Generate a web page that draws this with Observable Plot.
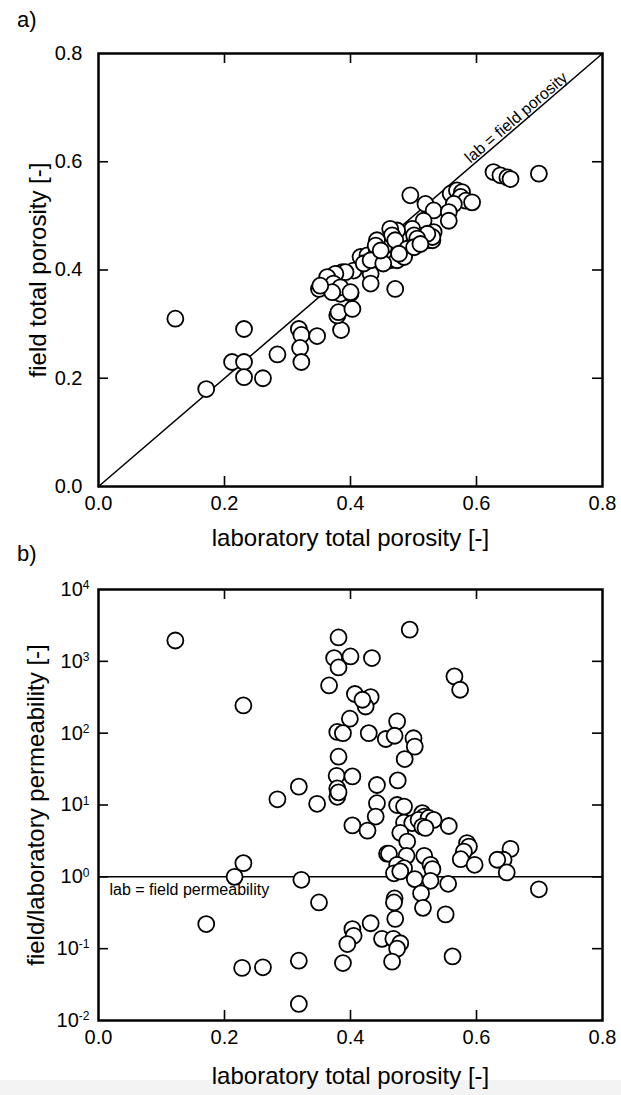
<!DOCTYPE html>
<html><head><meta charset="utf-8">
<script src="https://cdn.jsdelivr.net/npm/d3@7"></script>
<script src="https://cdn.jsdelivr.net/npm/@observablehq/plot@0.6"></script>
<style>
body{margin:0;background:#fff;font-family:"Liberation Sans",Arial,sans-serif;}
#wrap{position:relative;width:621px;height:1095px;overflow:hidden;background:#fff;}
.band{position:absolute;left:0;top:1080px;width:621px;height:15px;background:#f3f3f3;}
.tag{position:absolute;left:17px;font-size:22px;color:#000;line-height:1;}
.panel{position:absolute;left:0;}
</style></head><body>
<div id="wrap">
<div class="band"></div>
<div class="tag" style="top:9px">a)</div>
<div class="tag" style="top:543px">b)</div>
<div id="pa" class="panel" style="top:0px"></div>
<div id="pb" class="panel" style="top:560px"></div>
</div>
<script>
// ---------- data ----------
const xDomain = [0, 0.8];
const xTicks = [0, 0.2, 0.4, 0.6, 0.8];
const xInnerTicks = [0.2, 0.4, 0.6];
const yTicksA = [0, 0.2, 0.4, 0.6, 0.8];
const yInnerTicksA = [0.2, 0.4, 0.6];
const yDomainB = [0.01, 10000];
const yTicksB = [0.01, 0.1, 1, 10, 100, 1000, 10000];
const yInnerTicksB = [0.1, 1, 10, 100, 1000];
const yTickLabelsB = ["10^-2", "10^-1", "10^0", "10^1", "10^2", "10^3", "10^4"];
const xLabel = "laboratory total porosity [-]";
const yLabelA = "field total porosity [-]";
const yLabelB = "field/laboratory permeability [-]";
const annotA = [{text: "lab = field porosity", x: 0.663}];
const annotB = [{text: "lab = field permeability", x: 0.0175}];
const parityRatio = 1;

// panel a: laboratory vs field total porosity
const labPorA = [0.122,0.171,0.212,0.231,0.231,0.231,0.261,0.284,0.318,0.322,0.320,0.322,0.347,0.350,0.385,0.379,0.381,0.403,0.400,0.379,0.371,0.384,0.368,0.379,0.387,0.405,0.432,0.432,0.471,
  0.416,0.427,0.442,0.453,0.463,0.474,0.485,0.495,0.506,0.522,0.530,
  0.495,0.519,0.532,0.559,0.569,0.577,0.575,0.583,0.593,0.564,0.556,0.556,0.516,0.532,0.530,0.522,0.498,0.501,0.506,0.474,0.463,0.466,0.471,0.442,0.440,0.490,0.485,0.477,0.501,0.511,
  0.627,0.638,0.649,0.654,0.699,
  0.421,0.432,0.452,0.448,0.392,0.376,0.363,0.373,0.384,0.400,0.371,0.352];
const fieldPorA = [0.310,0.180,0.230,0.230,0.202,0.291,0.200,0.244,0.291,0.280,0.256,0.230,0.278,0.365,0.289,0.316,0.322,0.328,0.357,0.359,0.362,0.356,0.387,0.393,0.396,0.399,0.393,0.375,0.365,
  0.424,0.427,0.436,0.442,0.418,0.418,0.427,0.442,0.448,0.455,0.455,
  0.538,0.522,0.510,0.541,0.547,0.544,0.535,0.528,0.525,0.522,0.507,0.491,0.491,0.470,0.461,0.467,0.476,0.464,0.458,0.473,0.476,0.464,0.455,0.455,0.445,0.439,0.424,0.430,0.442,0.448,
  0.581,0.575,0.571,0.568,0.578,
  0.412,0.418,0.412,0.436,0.396,0.393,0.387,0.375,0.368,0.359,0.359,0.371];

// panel b: laboratory porosity vs field/laboratory permeability ratio
const labPorB = [0.122,0.230,0.381,0.374,0.400,0.381,0.434,0.366,0.407,0.432,0.424,0.419,0.399,0.379,0.388,0.429,0.456,0.381,0.378,0.403,0.318,0.379,0.442,
  0.494,0.565,0.574,0.474,0.470,0.500,0.502,0.486,0.475,
  0.284,0.347,0.379,0.381,0.442,0.440,0.403,0.427,0.458,0.230,0.216,0.322,0.350,0.171,0.432,0.403,0.405,0.395,0.318,0.388,0.228,0.261,0.318,
  0.474,0.485,0.485,0.498,0.514,0.517,0.508,0.524,0.532,0.514,0.519,0.556,0.479,0.490,0.461,0.489,0.474,0.485,0.469,0.479,0.517,0.527,0.530,0.502,0.527,0.555,0.512,0.515,0.551,
  0.585,0.588,0.580,0.575,0.597,0.654,0.643,0.633,0.648,0.699,
  0.470,0.469,0.471,0.450,0.468,0.479,0.474,0.466,0.562];
const ratioB = [1950,243,2150,1110,1170,822,1110,462,351,318,235,292,159,104,100,100,83,47,25.5,25,18,17,19,
  2760,617,402,146,92,85,65,43.6,22,
  12,10.4,13,15,10.6,6.9,5.2,4.4,2.1,1.55,1.0,0.91,0.44,0.22,0.226,0.187,0.151,0.116,0.068,0.063,0.054,0.055,0.017,
  10,9.5,5.7,5.6,7.7,6.9,6.2,6.6,6.2,5.0,4.8,5.1,4.1,3.1,2.1,1.96,1.47,1.32,1.12,1.19,1.96,1.47,1.28,0.93,0.88,0.80,0.59,0.37,0.30,
  2.95,2.64,2.25,1.76,1.47,2.45,1.73,1.73,1.15,0.67,
  0.50,0.44,0.26,0.137,0.137,0.119,0.10,0.066,0.078];

// ---------- layout / style ----------
const W = 621, ML = 98, MR = 19;
const FW = W - ML - MR;
const font = "'Liberation Sans', Arial, Helvetica, sans-serif";
const tickLen = 10;
const dotOpts = {r: 8, fill: "white", stroke: "black", strokeWidth: 1.8};

const ptsA = labPorA.map((x, i) => ({x, y: fieldPorA[i]}));
const ptsB = labPorB.map((x, i) => ({x, y: ratioB[i]}));

function innerTicks(fh, xt, yt) {
  return [
    Plot.ruleX(xt, {x: d => d, insetTop: fh - tickLen, stroke: "black", strokeWidth: 1.6}),
    Plot.ruleX(xt, {x: d => d, insetBottom: fh - tickLen, stroke: "black", strokeWidth: 1.6}),
    Plot.ruleY(yt, {y: d => d, insetRight: FW - tickLen, stroke: "black", strokeWidth: 1.6}),
    Plot.ruleY(yt, {y: d => d, insetLeft: FW - tickLen, stroke: "black", strokeWidth: 1.6})
  ];
}

// Panel a
const HA = 560, MTA = 53, MBA = 74, FHA = HA - MTA - MBA;
const plotA = Plot.plot({
  width: W, height: HA, marginLeft: ML, marginRight: MR, marginTop: MTA, marginBottom: MBA,
  style: {fontFamily: font, background: "transparent", color: "black", overflow: "visible"},
  x: {domain: xDomain, label: null},
  y: {domain: xDomain, label: null},
  marks: [
    Plot.line(xDomain.map(v => ({x: v, y: v})), {x: "x", y: "y", stroke: "black", strokeWidth: 1.5}),
    Plot.text(annotA, {x: "x", y: "x", text: "text", rotate: -Math.atan(FHA / FW) * 180 / Math.PI, dy: -10, fontSize: 16, fill: "black"}),
    Plot.dot(ptsA, {x: "x", y: "y", ...dotOpts}),
    ...innerTicks(FHA, xInnerTicks, yInnerTicksA),
    Plot.frame({stroke: "black", strokeWidth: 2.5}),
    Plot.axisX(xTicks, {anchor: "bottom", tickSize: 0, tickPadding: 9, tickFormat: d => d.toFixed(1), fontSize: 20, label: null}),
    Plot.axisY(yTicksA, {anchor: "left", tickSize: 0, tickPadding: 16, tickFormat: d => d.toFixed(1), fontSize: 20, label: null}),
    Plot.text([xLabel], {frameAnchor: "bottom", dy: 52, lineAnchor: "middle", textAnchor: "middle", fontSize: 24, fill: "black"}),
    Plot.text([yLabelA], {frameAnchor: "left", dx: -60, rotate: -90, textAnchor: "middle", lineAnchor: "middle", fontSize: 24, fill: "black"})
  ]
});
document.getElementById("pa").appendChild(plotA);

// Panel b
const HB = 535, MTB = 29, MBB = 75, FHB = HB - MTB - MBB;
const labelMap = new Map(yTicksB.map((v, i) => [v, yTickLabelsB[i]]));
const plotB = Plot.plot({
  width: W, height: HB, marginLeft: ML, marginRight: MR, marginTop: MTB, marginBottom: MBB,
  style: {fontFamily: font, background: "transparent", color: "black", overflow: "visible"},
  x: {domain: xDomain, label: null},
  y: {type: "log", domain: yDomainB, label: null},
  marks: [
    Plot.ruleY([parityRatio], {stroke: "black", strokeWidth: 1.5}),
    Plot.text(annotB, {x: "x", y: () => parityRatio, text: "text", textAnchor: "start", dy: 13, fontSize: 16, fill: "black"}),
    Plot.dot(ptsB, {x: "x", y: "y", ...dotOpts}),
    ...innerTicks(FHB, xInnerTicks, yInnerTicksB),
    Plot.frame({stroke: "black", strokeWidth: 2.5}),
    Plot.axisX(xTicks, {anchor: "bottom", tickSize: 0, tickPadding: 9, tickFormat: d => d.toFixed(1), fontSize: 20, label: null}),
    Plot.axisY(yTicksB, {anchor: "left", tickSize: 0, tickPadding: 9, tickFormat: d => labelMap.get(d), fontSize: 20, label: null}),
    Plot.text([xLabel], {frameAnchor: "bottom", dy: 56, lineAnchor: "middle", textAnchor: "middle", fontSize: 24, fill: "black"}),
    Plot.text([yLabelB], {frameAnchor: "left", dx: -62, rotate: -90, textAnchor: "middle", lineAnchor: "middle", fontSize: 24, fill: "black"})
  ]
});
// superscript exponents
plotB.querySelectorAll("text").forEach(t => {
  const m = /^10\^(-?\d+)$/.exec(t.textContent);
  if (m) {
    t.textContent = "10";
    const ts = document.createElementNS("http://www.w3.org/2000/svg", "tspan");
    ts.setAttribute("dy", "-0.55em");
    ts.setAttribute("font-size", "0.6em");
    ts.textContent = m[1];
    t.appendChild(ts);
  }
});
document.getElementById("pb").appendChild(plotB);
</script>
</body></html>
